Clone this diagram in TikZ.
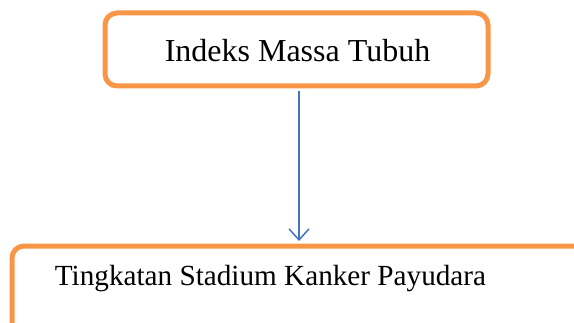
\documentclass[tikz,border=0pt]{standalone}
\usepackage{fontspec}
\setmainfont{Liberation Serif}
\usetikzlibrary{arrows.meta,calc}
\definecolor{boxorange}{RGB}{247,150,70}
\definecolor{arrowblue}{RGB}{68,114,196}
\begin{document}
\begin{tikzpicture}[x=1pt,y=1pt,
  box/.style={draw=boxorange, line width=5pt, rounded corners=12pt, fill=white, inner sep=0pt},
  label/.style={inner sep=0pt, anchor=base},
  conn/.style={draw=arrowblue, line width=1.5pt, -{Straight Barb[length=11pt,width=20pt,line width=1.5pt]}}]
\useasboundingbox (0,0) rectangle (574,322);
\clip (0,0) rectangle (574,322);
\node[box, minimum width=383pt, minimum height=73pt] (top) at (296.5,272.5) {};
\node[box, minimum width=588pt, minimum height=94pt] (bottom) at (306,29) {};
\node[label, font=\fontsize{32}{38}\selectfont] (toptext) at (297.5,260) {Indeks Massa Tubuh};
\node[label, font=\fontsize{29.2}{35}\selectfont] (bottomtext) at (270.5,36.3) {Tingkatan Stadium Kanker Payudara};
\draw[conn] ($(top.south)+(2.5,-2.5)$) -- ($(top.south |- bottom.north)+(2.5,2.5)$);
\end{tikzpicture}
\end{document}
